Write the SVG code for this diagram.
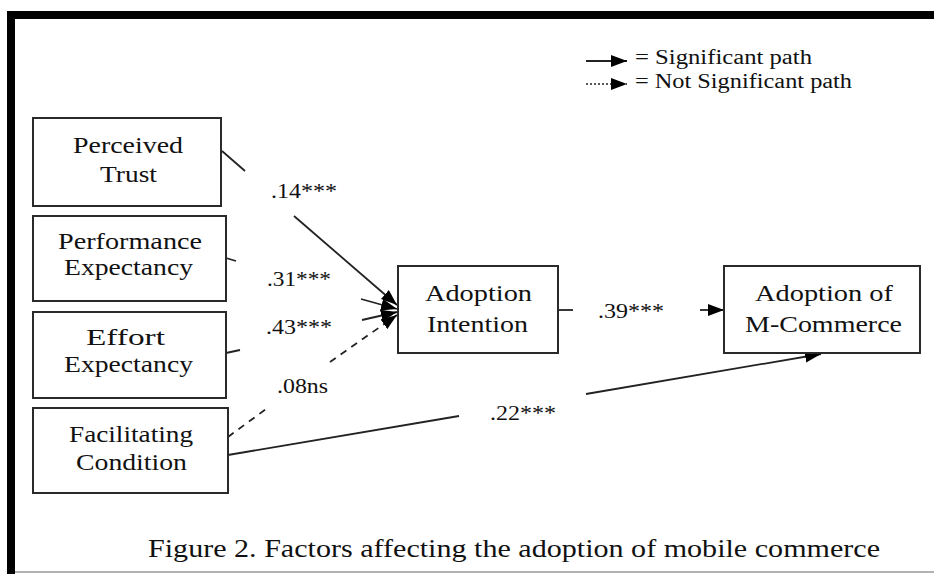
<svg xmlns="http://www.w3.org/2000/svg" width="934" height="574" viewBox="0 0 934 574">
<style>
text{font-family:"Liberation Serif","Times New Roman",Times,serif;fill:#111}
.n{font-size:23px}
.l{font-size:20px}
.c{font-size:25px}
.box{fill:#fff;stroke:#2a2a2a;stroke-width:2}
.ln{fill:none;stroke:#222;stroke-width:1.8}
.dash{stroke-dasharray:7 6}
.dot{stroke-dasharray:2 2;stroke-width:1.4}
</style>
<defs>
<marker id="ah" markerWidth="16" markerHeight="12" refX="16" refY="6" orient="auto" markerUnits="userSpaceOnUse">
<path d="M0,0 L16,6 L0,12 Z" fill="#000"/>
</marker>
</defs>
<rect width="934" height="574" fill="#fff"/>
<g id="frame">
<rect x="7" y="11" width="927" height="8" fill="#000"/>
<rect x="7" y="11" width="8" height="563" fill="#000"/>
<line x1="15" y1="572" x2="934" y2="572" stroke="#999" stroke-width="1.5"/>
</g>
<g id="legend">
<line class="ln" x1="586" y1="61" x2="627" y2="61" marker-end="url(#ah)"/>
<text class="l" x="635" y="64" textLength="177" lengthAdjust="spacingAndGlyphs">= Significant path</text>
<line class="ln dot" x1="586" y1="84" x2="627" y2="84" marker-end="url(#ah)"/>
<text class="l" x="635" y="88" textLength="217" lengthAdjust="spacingAndGlyphs">= Not Significant path</text>
</g>
<g id="connectors">
<line class="ln" x1="222" y1="151" x2="245" y2="171"/>
<line class="ln" x1="294" y1="216" x2="397" y2="305" marker-end="url(#ah)"/>
<line class="ln" x1="226" y1="258" x2="236" y2="261"/>
<line class="ln" x1="361" y1="299" x2="397" y2="309" marker-end="url(#ah)"/>
<line class="ln" x1="226" y1="353" x2="240" y2="350"/>
<line class="ln" x1="362" y1="320" x2="397" y2="312" marker-end="url(#ah)"/>
<line class="ln dash" x1="228" y1="437" x2="266" y2="409"/>
<line class="ln dash" x1="330" y1="362" x2="397" y2="315" marker-end="url(#ah)"/>
<line class="ln" x1="228" y1="455" x2="459" y2="416"/>
<line class="ln" x1="586" y1="394" x2="821" y2="354" marker-end="url(#ah)"/>
<line class="ln" x1="558" y1="310" x2="573" y2="310"/>
<line class="ln" x1="700" y1="310" x2="724" y2="310" marker-end="url(#ah)"/>
</g>
<g id="labels">
<text class="l" x="271" y="198" textLength="66" lengthAdjust="spacingAndGlyphs">.14***</text>
<text class="l" x="267" y="286" textLength="64" lengthAdjust="spacingAndGlyphs">.31***</text>
<text class="l" x="266" y="334" textLength="66" lengthAdjust="spacingAndGlyphs">.43***</text>
<text class="l" x="277" y="393" textLength="51" lengthAdjust="spacingAndGlyphs">.08ns</text>
<text class="l" x="490" y="420" textLength="66" lengthAdjust="spacingAndGlyphs">.22***</text>
<text class="l" x="598" y="318" textLength="66" lengthAdjust="spacingAndGlyphs">.39***</text>
</g>
<g id="perceived-trust">
<rect class="box" x="33" y="118" width="188" height="88"/>
<text class="n" x="73" y="153" textLength="110" lengthAdjust="spacingAndGlyphs">Perceived</text>
<text class="n" x="100" y="182" textLength="57" lengthAdjust="spacingAndGlyphs">Trust</text>
</g>
<g id="performance-expectancy">
<rect class="box" x="33" y="216" width="193" height="85"/>
<text class="n" x="58" y="249" textLength="144" lengthAdjust="spacingAndGlyphs">Performance</text>
<text class="n" x="64" y="275" textLength="129" lengthAdjust="spacingAndGlyphs">Expectancy</text>
</g>
<g id="effort-expectancy">
<rect class="box" x="33" y="312" width="193" height="86"/>
<text class="n" x="86" y="345" textLength="79" lengthAdjust="spacingAndGlyphs">Effort</text>
<text class="n" x="64" y="372" textLength="129" lengthAdjust="spacingAndGlyphs">Expectancy</text>
</g>
<g id="facilitating-condition">
<rect class="box" x="33" y="408" width="195" height="85"/>
<text class="n" x="69" y="442" textLength="124" lengthAdjust="spacingAndGlyphs">Facilitating</text>
<text class="n" x="76" y="470" textLength="111" lengthAdjust="spacingAndGlyphs">Condition</text>
</g>
<g id="adoption-intention">
<rect class="box" x="398" y="266" width="160" height="87"/>
<text class="n" x="425" y="301" textLength="107" lengthAdjust="spacingAndGlyphs">Adoption</text>
<text class="n" x="427" y="332" textLength="101" lengthAdjust="spacingAndGlyphs">Intention</text>
</g>
<g id="adoption-mcommerce">
<rect class="box" x="724" y="266" width="196" height="87"/>
<text class="n" x="755" y="301" textLength="138" lengthAdjust="spacingAndGlyphs">Adoption of</text>
<text class="n" x="745" y="332" textLength="157" lengthAdjust="spacingAndGlyphs">M-Commerce</text>
</g>
<g id="caption">
<text class="c" x="148" y="557" textLength="732" lengthAdjust="spacingAndGlyphs">Figure 2. Factors affecting the adoption of mobile commerce</text>
</g>
</svg>
